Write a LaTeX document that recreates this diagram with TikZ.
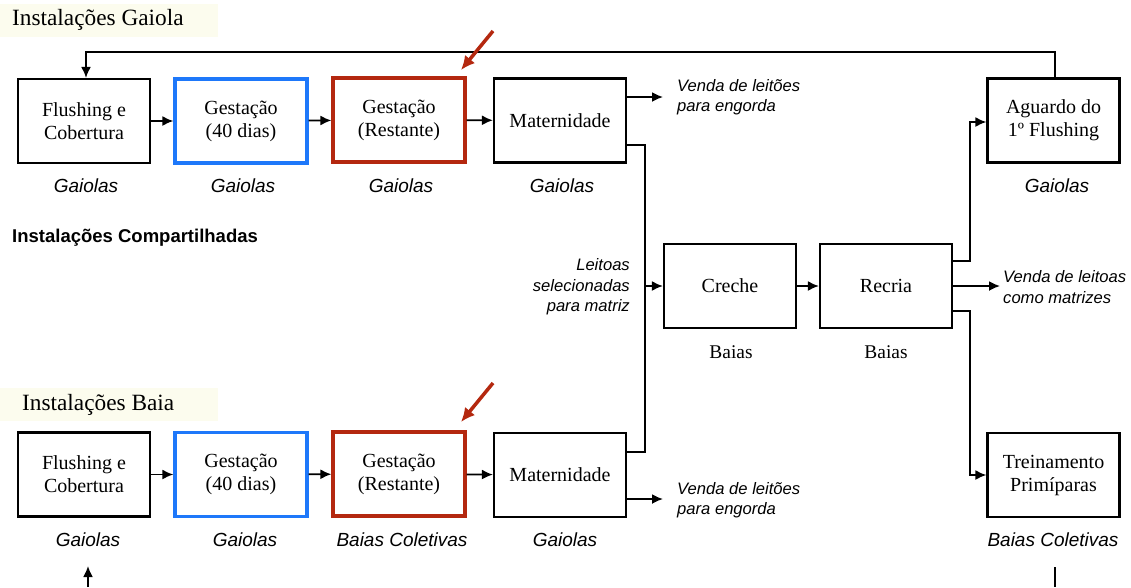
\documentclass[tikz,border=0pt]{standalone}
\usepackage{fontspec}
\setmainfont{Liberation Serif}
\setsansfont{Liberation Sans}
\usetikzlibrary{arrows.meta}
\definecolor{bblue}{RGB}{30,120,250}
\definecolor{bred}{RGB}{180,40,15}
\definecolor{cream}{RGB}{252,252,238}
\tikzset{
  box/.style={draw=black, line width=2.2pt, fill=white, minimum width=132pt, minimum height=84pt, align=center, font=\fontsize{20}{23}\selectfont, inner sep=2pt},
  bluebox/.style={box, draw=bblue, line width=3.2pt},
  redbox/.style={box, draw=bred, line width=3.2pt},
  lab/.style={font=\sffamily\itshape\fontsize{19}{20}\selectfont},
  slab/.style={font=\fontsize{19.4}{20}\selectfont},
  note/.style={font=\sffamily\itshape\fontsize{16.6}{20.5}\selectfont, align=left, inner sep=0pt},
  title/.style={font=\fontsize{23.3}{24}\selectfont, inner sep=0pt},
  arr/.style={line width=1.8pt, -{Latex[length=11pt,width=10pt]}},
  ln/.style={line width=1.8pt},
  redarr/.style={draw=bred, line width=3.5pt, -{Latex[length=14pt,width=13pt]}}
}
\begin{document}
\begin{tikzpicture}[x=1pt,y=-1pt]
\useasboundingbox (0,0) rectangle (1131,587);
\fill[white] (0,0) rectangle (1131,587);
% titles
\fill[cream] (0,4) rectangle (218,37);
\fill[cream] (0,388) rectangle (218,421);
\node[title, anchor=west] (tg) at (12,20) {Instalações Gaiola};
\node[title, anchor=west] (tb) at (22,405) {Instalações Baia};
\node[anchor=west, inner sep=0pt, font=\sffamily\bfseries\fontsize{18.5}{20}\selectfont] (tc) at (12,238) {Instalações Compartilhadas};
% top row
\node[box] (t1) at (84,121) {Flushing e\\Cobertura};
\node[bluebox] (t2) at (241,121) {Gestação\\(40 dias)};
\node[redbox] (t3) at (399,120) {Gestação\\(Restante)};
\node[box] (t4) at (560,120.5) {Maternidade};
\node[box] (ag) at (1053.5,120.5) {Aguardo do\\1º Flushing};
\node[lab] (l1) at (86,186) {Gaiolas};
\node[lab] (l2) at (243,186) {Gaiolas};
\node[lab] (l3) at (401,186) {Gaiolas};
\node[lab] (l4) at (562,186) {Gaiolas};
\node[lab] (l5) at (1057,186) {Gaiolas};
% middle
\node[box] (cr) at (730,286) {Creche};
\node[box] (re) at (886,286) {Recria};
\node[slab] (lc) at (731,352) {Baias};
\node[slab] (lr) at (886,352) {Baias};
% bottom row
\node[box] (b1) at (84,474.5) {Flushing e\\Cobertura};
\node[bluebox] (b2) at (241,474.5) {Gestação\\(40 dias)};
\node[redbox] (b3) at (399,474) {Gestação\\(Restante)};
\node[box] (b4) at (560,475) {Maternidade};
\node[box] (tr) at (1053.5,475) {Treinamento\\Primíparas};
\node[lab] (m1) at (88,540) {Gaiolas};
\node[lab] (m2) at (245,540) {Gaiolas};
\node[lab] (m3) at (402,540) {Baias Coletivas};
\node[lab] (m4) at (565,540) {Gaiolas};
\node[lab] (m5) at (1053,540) {Baias Coletivas};
% notes
\node[note, anchor=west] (v1) at (677,97) {Venda de leitões\\para engorda};
\node[note, anchor=west] (v2) at (677,500) {Venda de leitões\\para engorda};
\node[note, anchor=west] (v3) at (1003,287) {Venda de leitoas\\como matrizes};
\node[note, anchor=east, align=right] (ls) at (630,287) {Leitoas\\selecionadas\\para matriz};
% flow arrows
\draw[arr] (t1) -- (t2);
\draw[arr] (t2) -- (t3);
\draw[arr] (t3) -- (t4);
\draw[arr] (b1) -- (b2);
\draw[arr] (b2) -- (b3);
\draw[arr] (b3) -- (b4);
\draw[arr] (cr) -- (re);
% feedback loop top
\coordinate (fb) at (1055,52);
\draw[arr] (ag.north -| fb) -- (fb) -| (t1.north -| 86,0);
% maternidade to creche
\coordinate (jt) at (645,145);
\coordinate (jb) at (645,452);
\coordinate (jc) at (645,286);
\draw[ln] (t4.east |- jt) -- (jt) -- (jb) -- (b4.east |- jb);
\draw[arr] (jc) -- (cr.west);
% venda leitoes
\draw[arr] (t4.east |- 0,97) -- (663,97);
\draw[arr] (b4.east |- 0,499) -- (663,499);
% recria outputs
\coordinate (ru) at (970,261);
\coordinate (rd) at (970,311);
\draw[arr] (re.east |- ru) -- (ru) |- (ag.west |- 0,122);
\draw[arr] (re.east) -- (re.east -| 1000,0);
\draw[arr] (re.east |- rd) -- (rd) |- (tr.west);
% partial loop at bottom
\coordinate (bu0) at (88,587);
\coordinate (bu1) at (88,566);
\draw[arr] (bu0) -- (bu1);
\coordinate (bd0) at (1055,567);
\coordinate (bd1) at (1055,587);
\draw[ln] (bd0) -- (bd1);
% red pointers
\coordinate (r1a) at (493,31);
\coordinate (r1b) at (461,70);
\coordinate (r2a) at (493,383);
\coordinate (r2b) at (461,422);
\draw[redarr] (r1a) -- (r1b);
\draw[redarr] (r2a) -- (r2b);
\end{tikzpicture}
\end{document}
